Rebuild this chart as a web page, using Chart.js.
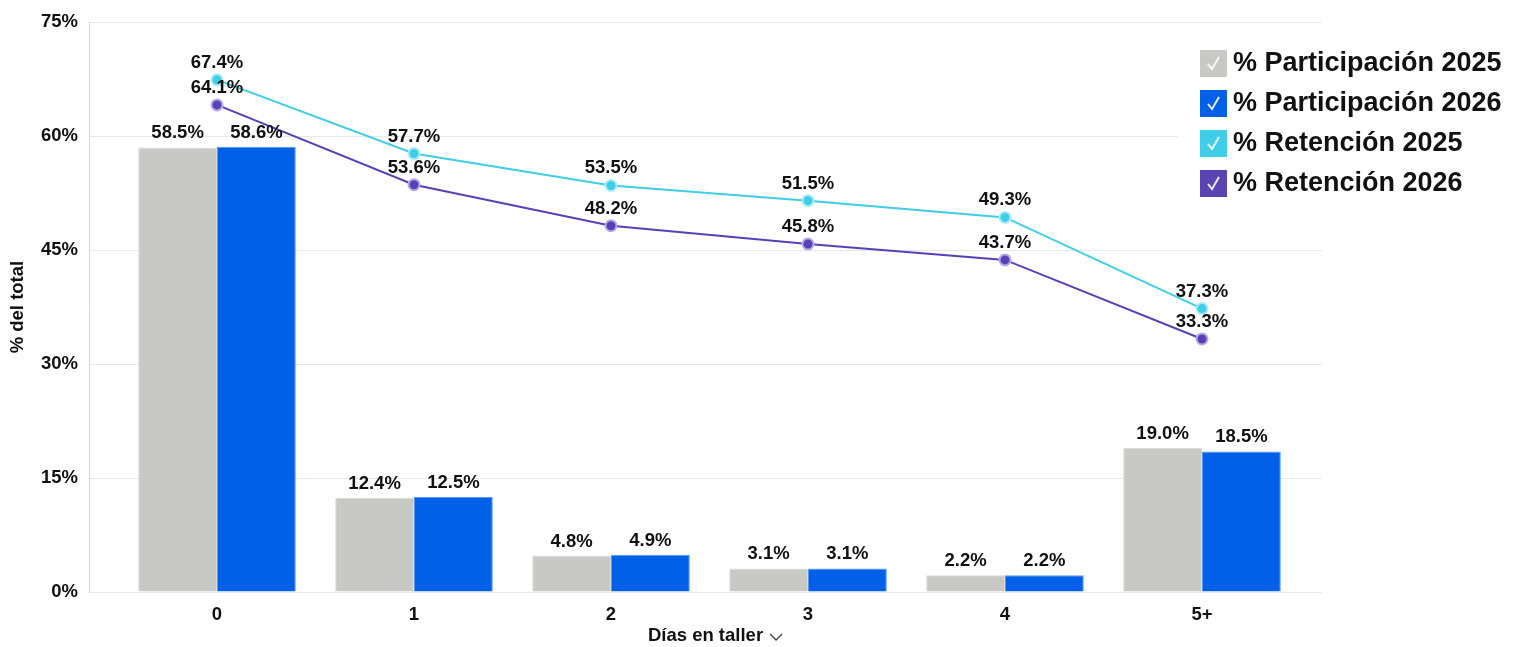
<html>

<head>
    <title>Días en taller</title>
    <style>
        html,
        body {
            margin: 0;
            background: #fff;
        }
    </style>
</head>

<body>
    <canvas id="chart" width="1520" height="647"></canvas>

    <script src="https://cdn.jsdelivr.net/npm/chart.js@4"></script>
    <script>
        // chart values
        const categories = ['0', '1', '2', '3', '4', '5+']
        const part2025 = [58.5, 12.4, 4.8, 3.1, 2.2, 19.0]
        const part2026 = [58.6, 12.5, 4.9, 3.1, 2.2, 18.5]
        const ret2025 = [67.4, 57.7, 53.5, 51.5, 49.3, 37.3]
        const ret2026 = [64.1, 53.6, 48.2, 45.8, 43.7, 33.3]
        const yTicks = { min: 0, max: 75, step: 15 }

        const FONT = "'Liberation Sans', Arial, sans-serif"
        const pts = arr => arr.map((v, i) => ({ x: i, y: v }))

        // value labels above bars and points
        const valueLabels = {
            id: 'valueLabels',
            afterDatasetsDraw(chart) {
                const ctx = chart.ctx
                ctx.save()
                ctx.font = 'bold 18.5px ' + FONT
                ctx.fillStyle = '#111'
                ctx.textAlign = 'center'
                ctx.textBaseline = 'alphabetic'
                chart.data.datasets.forEach((ds, i) => {
                    const meta = chart.getDatasetMeta(i)
                    const off = ds.type === 'line' ? 12 : 9
                    meta.data.forEach((el, j) => {
                        ctx.fillText(ds.data[j].y.toFixed(1) + '%', el.x, el.y - off)
                    })
                })
                ctx.restore()
            }
        }

        // legend on the right with check boxes, and chevron after x title
        const sideLegend = {
            id: 'sideLegend',
            afterDraw(chart) {
                const ctx = chart.ctx
                ctx.save()
                ctx.fillStyle = '#fff'
                ctx.fillRect(1178, 38, 342, 172)
                chart.data.datasets.forEach((ds, i) => {
                    const x = 1200, y = 50 + i * 40
                    ctx.fillStyle = ds.legendColor
                    ctx.fillRect(x, y, 27, 27)
                    ctx.strokeStyle = 'rgba(255,255,255,0.9)'
                    ctx.lineWidth = 2
                    ctx.beginPath()
                    ctx.moveTo(x + 8, y + 14)
                    ctx.lineTo(x + 12, y + 19)
                    ctx.lineTo(x + 19, y + 7)
                    ctx.stroke()
                    ctx.fillStyle = '#111'
                    ctx.font = 'bold 27px ' + FONT
                    ctx.textAlign = 'left'
                    ctx.textBaseline = 'middle'
                    ctx.fillText(ds.label, 1233, y + 14)
                })

                const area = chart.chartArea
                ctx.font = 'bold 18.5px ' + FONT
                const w = ctx.measureText('Días en taller').width
                const cx = (area.left + area.right) / 2 + w / 2 + 7
                const cy = 637
                ctx.strokeStyle = '#444'
                ctx.lineWidth = 1.3
                ctx.beginPath()
                ctx.moveTo(cx, cy - 3)
                ctx.lineTo(cx + 6, cy + 3)
                ctx.lineTo(cx + 12, cy - 3)
                ctx.stroke()
                ctx.restore()
            }
        }

        const my_chart = new Chart(chart.getContext('2d'), {
            type: 'bar',
            data: {
                datasets: [{
                    label: '% Participación 2025',
                    data: pts(part2025),
                    backgroundColor: '#c8c9c4',
                    borderColor: '#dcdcd8',
                    borderWidth: 1,
                    legendColor: '#c8c9c4',
                    order: 2,
                }, {
                    label: '% Participación 2026',
                    data: pts(part2026),
                    backgroundColor: '#0061e8',
                    borderColor: '#5a98f0',
                    borderWidth: 1,
                    legendColor: '#0061e8',
                    order: 2,
                }, {
                    type: 'line',
                    label: '% Retención 2025',
                    data: pts(ret2025),
                    borderColor: '#3fcde8',
                    borderWidth: 2,
                    pointRadius: 5.5,
                    pointBorderWidth: 2,
                    pointBackgroundColor: '#3fcde8',
                    pointBorderColor: '#a9eaf6',
                    legendColor: '#3fcde8',
                    lineTension: 0,
                    order: 1,
                }, {
                    type: 'line',
                    label: '% Retención 2026',
                    data: pts(ret2026),
                    borderColor: '#5a40b8',
                    borderWidth: 2,
                    pointRadius: 5.5,
                    pointBorderWidth: 2,
                    pointBackgroundColor: '#5a40b8',
                    pointBorderColor: '#b4a8e2',
                    legendColor: '#5a44b2',
                    lineTension: 0,
                    order: 1,
                }]
            },
            options: {
                responsive: false,
                animation: false,
                layout: { padding: { top: 17, right: 198, left: 0, bottom: 0 } },
                datasets: { bar: { categoryPercentage: 0.8, barPercentage: 1.0 } },
                plugins: { legend: { display: false }, tooltip: { enabled: false } },
                scales: {
                    x: {
                        type: 'linear',
                        bounds: 'data',
                        offset: false,
                        min: (89 - 217) / 197,
                        max: (1322 - 217) / 197,
                        grid: { display: false, offset: false },
                        border: { display: false },
                        afterBuildTicks: s => { s.ticks = categories.map((c, i) => ({ value: i })) },
                        ticks: {
                            padding: 4,
                            color: '#111',
                            font: { family: FONT, size: 18.5, weight: 'bold' },
                            callback: v => categories[v],
                        },
                        title: {
                            display: true,
                            text: 'Días en taller',
                            color: '#111',
                            padding: 0,
                            font: { family: FONT, size: 18.5, weight: 'bold' },
                        },
                        afterFit: s => { s.height = 55 },
                    },
                    y: {
                        min: yTicks.min,
                        max: yTicks.max,
                        grid: { color: '#e8e8e8', drawTicks: false },
                        border: { color: '#d8d8d8' },
                        ticks: {
                            stepSize: yTicks.step,
                            padding: 11,
                            color: '#111',
                            font: { family: FONT, size: 18.5, weight: 'bold' },
                            callback: v => v + '%',
                        },
                        title: {
                            display: true,
                            text: '% del total',
                            color: '#111',
                            padding: { top: 7, bottom: 0 },
                            font: { family: FONT, size: 18.5, weight: 'bold' },
                        },
                        afterFit: s => { s.width = 89 },
                    }
                }
            },
            plugins: [valueLabels, sideLegend]
        });
    </script>
</body>

</html>
